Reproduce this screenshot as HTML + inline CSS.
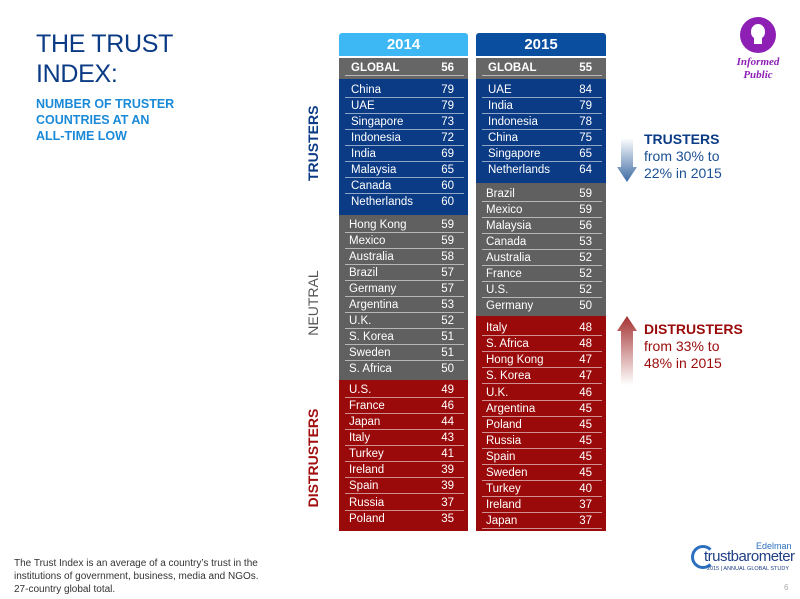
<!DOCTYPE html>
<html><head><meta charset="utf-8"><style>
*{margin:0;padding:0;box-sizing:border-box}
body{width:800px;height:599px;background:#fff;position:relative;overflow:hidden;font-family:"Liberation Sans",sans-serif}
.a{position:absolute}
.r{position:absolute;height:16px;color:#fff;font-size:11.5px;line-height:16px}
.r span{position:absolute;left:12px}
.r b{position:absolute;right:14px;font-weight:normal}
.r i{position:absolute;left:6px;right:4px;bottom:0;height:1px;background:rgba(255,255,255,.55)}
.c14 .r{left:339px;width:129px}
.c15 .r{left:476px;width:130px}
.side{position:absolute;font-weight:bold;font-size:14px;transform:rotate(-90deg);transform-origin:center;white-space:nowrap}
</style></head><body>
<div class="a" style="left:36px;top:29px;font-size:25px;color:#0b3b85;line-height:30px;letter-spacing:-0.3px">THE TRUST<br>INDEX:</div>
<div class="a" style="left:36px;top:96px;font-size:12.5px;font-weight:bold;color:#1a8ad8;line-height:16px">NUMBER OF TRUSTER<br>COUNTRIES AT AN<br>ALL-TIME LOW</div>
<div class="a" style="left:14px;top:557px;font-size:10px;color:#333;line-height:13px">The Trust Index is an average of a country’s trust in the<br>institutions of government, business, media and NGOs.<br>27-country global total.</div>

<div class="side" style="left:278px;top:138px;width:70px;color:#0b3b85;text-align:center">TRUSTERS</div>
<div class="side" style="left:278px;top:295px;width:70px;color:#555;font-weight:normal;text-align:center">NEUTRAL</div>
<div class="side" style="left:263px;top:450px;width:100px;color:#a00e0e;text-align:center">DISTRUSTERS</div>

<div class="a" style="left:339px;top:33px;width:129px;height:23px;background:#3db8f5;border-radius:3px 3px 0 0;color:#fff;font-weight:bold;font-size:15px;text-align:center;line-height:23px">2014</div>
<div class="a" style="left:339px;top:58px;width:129px;height:21px;background:#666"></div>
<div class="a" style="left:339px;top:79px;width:129px;height:136px;background:#0b3b85"></div>
<div class="a" style="left:339px;top:215px;width:129px;height:165px;background:#606060"></div>
<div class="a" style="left:339px;top:380px;width:129px;height:151px;background:#9a0a0a"></div>
<div class="a" style="left:476px;top:33px;width:130px;height:23px;background:#0a4ea0;border-radius:3px 3px 0 0;color:#fff;font-weight:bold;font-size:15px;text-align:center;line-height:23px">2015</div>
<div class="a" style="left:476px;top:58px;width:130px;height:21px;background:#666"></div>
<div class="a" style="left:476px;top:79px;width:130px;height:104px;background:#0b3b85"></div>
<div class="a" style="left:476px;top:183px;width:130px;height:133px;background:#606060"></div>
<div class="a" style="left:476px;top:316px;width:130px;height:215px;background:#9a0a0a"></div>

<div class="c14">
<div class="r" style="top:60px;font-weight:bold"><span>GLOBAL</span><b style="font-weight:bold">56</b><i></i></div>
<div class="r" style="top:82px"><span>China</span><b>79</b><i></i></div>
<div class="r" style="top:98px"><span>UAE</span><b>79</b><i></i></div>
<div class="r" style="top:114px"><span>Singapore</span><b>73</b><i></i></div>
<div class="r" style="top:130px"><span>Indonesia</span><b>72</b><i></i></div>
<div class="r" style="top:146px"><span>India</span><b>69</b><i></i></div>
<div class="r" style="top:162px"><span>Malaysia</span><b>65</b><i></i></div>
<div class="r" style="top:178px"><span>Canada</span><b>60</b><i></i></div>
<div class="r" style="top:194px"><span>Netherlands</span><b>60</b></div>
<div class="r" style="top:217px"><span style="left:10px">Hong Kong</span><b>59</b><i></i></div>
<div class="r" style="top:233px"><span style="left:10px">Mexico</span><b>59</b><i></i></div>
<div class="r" style="top:249px"><span style="left:10px">Australia</span><b>58</b><i></i></div>
<div class="r" style="top:265px"><span style="left:10px">Brazil</span><b>57</b><i></i></div>
<div class="r" style="top:281px"><span style="left:10px">Germany</span><b>57</b><i></i></div>
<div class="r" style="top:297px"><span style="left:10px">Argentina</span><b>53</b><i></i></div>
<div class="r" style="top:313px"><span style="left:10px">U.K.</span><b>52</b><i></i></div>
<div class="r" style="top:329px"><span style="left:10px">S. Korea</span><b>51</b><i></i></div>
<div class="r" style="top:345px"><span style="left:10px">Sweden</span><b>51</b><i></i></div>
<div class="r" style="top:361px"><span style="left:10px">S. Africa</span><b>50</b></div>
<div class="r" style="top:382px"><span style="left:10px">U.S.</span><b>49</b><i></i></div>
<div class="r" style="top:398px"><span style="left:10px">France</span><b>46</b><i></i></div>
<div class="r" style="top:414px"><span style="left:10px">Japan</span><b>44</b><i></i></div>
<div class="r" style="top:430px"><span style="left:10px">Italy</span><b>43</b><i></i></div>
<div class="r" style="top:446px"><span style="left:10px">Turkey</span><b>41</b><i></i></div>
<div class="r" style="top:462px"><span style="left:10px">Ireland</span><b>39</b><i></i></div>
<div class="r" style="top:478px"><span style="left:10px">Spain</span><b>39</b><i></i></div>
<div class="r" style="top:495px"><span style="left:10px">Russia</span><b>37</b><i></i></div>
<div class="r" style="top:511px"><span style="left:10px">Poland</span><b>35</b></div>
</div>

<div class="c15">
<div class="r" style="top:60px;font-weight:bold"><span>GLOBAL</span><b style="font-weight:bold">55</b><i></i></div>
<div class="r" style="top:82px"><span>UAE</span><b>84</b><i></i></div>
<div class="r" style="top:98px"><span>India</span><b>79</b><i></i></div>
<div class="r" style="top:114px"><span>Indonesia</span><b>78</b><i></i></div>
<div class="r" style="top:130px"><span>China</span><b>75</b><i></i></div>
<div class="r" style="top:146px"><span>Singapore</span><b>65</b><i></i></div>
<div class="r" style="top:162px"><span>Netherlands</span><b>64</b></div>
<div class="r" style="top:186px"><span style="left:10px">Brazil</span><b>59</b><i></i></div>
<div class="r" style="top:202px"><span style="left:10px">Mexico</span><b>59</b><i></i></div>
<div class="r" style="top:218px"><span style="left:10px">Malaysia</span><b>56</b><i></i></div>
<div class="r" style="top:234px"><span style="left:10px">Canada</span><b>53</b><i></i></div>
<div class="r" style="top:250px"><span style="left:10px">Australia</span><b>52</b><i></i></div>
<div class="r" style="top:266px"><span style="left:10px">France</span><b>52</b><i></i></div>
<div class="r" style="top:282px"><span style="left:10px">U.S.</span><b>52</b><i></i></div>
<div class="r" style="top:298px"><span style="left:10px">Germany</span><b>50</b></div>
<div class="r" style="top:320px"><span style="left:10px">Italy</span><b>48</b><i></i></div>
<div class="r" style="top:336px"><span style="left:10px">S. Africa</span><b>48</b><i></i></div>
<div class="r" style="top:352px"><span style="left:10px">Hong Kong</span><b>47</b><i></i></div>
<div class="r" style="top:368px"><span style="left:10px">S. Korea</span><b>47</b><i></i></div>
<div class="r" style="top:385px"><span style="left:10px">U.K.</span><b>46</b><i></i></div>
<div class="r" style="top:401px"><span style="left:10px">Argentina</span><b>45</b><i></i></div>
<div class="r" style="top:417px"><span style="left:10px">Poland</span><b>45</b><i></i></div>
<div class="r" style="top:433px"><span style="left:10px">Russia</span><b>45</b><i></i></div>
<div class="r" style="top:449px"><span style="left:10px">Spain</span><b>45</b><i></i></div>
<div class="r" style="top:465px"><span style="left:10px">Sweden</span><b>45</b><i></i></div>
<div class="r" style="top:481px"><span style="left:10px">Turkey</span><b>40</b><i></i></div>
<div class="r" style="top:497px"><span style="left:10px">Ireland</span><b>37</b><i></i></div>
<div class="r" style="top:513px"><span style="left:10px">Japan</span><b>37</b><i></i></div>
</div>

<svg class="a" style="left:612px;top:135px" width="30" height="250">
<defs>
<linearGradient id="gb" x1="0" y1="0" x2="0" y2="1"><stop offset="0" stop-color="#fff"/><stop offset="1" stop-color="#3d6aa3"/></linearGradient>
<linearGradient id="gr" x1="0" y1="1" x2="0" y2="0"><stop offset="0" stop-color="#fff"/><stop offset="1" stop-color="#a53333"/></linearGradient>
</defs>
<polygon points="9,3 21,3 21,32 25,32 15,47 5,32 9,32" fill="url(#gb)"/>
<polygon points="15,181 25,196 21,196 21,250 9,250 9,196 5,196" fill="url(#gr)"/>
</svg>
<div class="a" style="left:644px;top:131px;font-size:14px;line-height:17px;color:#0b3b85"><b>TRUSTERS</b><br><span style="color:#1b4f93">from 30% to<br>22% in 2015</span></div>
<div class="a" style="left:644px;top:321px;font-size:14px;line-height:17px;color:#9a0a0a"><b>DISTRUSTERS</b><br>from 33% to<br>48% in 2015</div>

<div class="a" style="left:740px;top:17px;width:36px;height:36px;border-radius:50%;background:#8e1fb5"></div>
<div class="a" style="left:751px;top:24px;width:14px;height:15px;border-radius:50% 50% 45% 45%;border:2px solid #fff;background:#fff"></div>
<div class="a" style="left:754px;top:38px;width:8px;height:6px;background:#fff"></div>
<div class="a" style="left:720px;top:56px;width:76px;text-align:center;font-family:'Liberation Serif',serif;font-style:italic;font-weight:bold;font-size:11px;color:#8e1fb5;line-height:13px">Informed<br>Public</div>

<div class="a" style="left:691px;top:545px;width:24px;height:24px;border-radius:50%;border:3px solid #2a6fc0;border-right-color:transparent"></div>
<div class="a" style="left:756px;top:541px;font-size:9px;color:#2a6fc0">Edelman</div>
<div class="a" style="left:704px;top:548px;font-size:15px;color:#1f3f86;letter-spacing:-0.5px">trustbarometer</div>
<div class="a" style="left:707px;top:566px;font-size:5.5px;color:#1f3f86">2015 | ANNUAL GLOBAL STUDY</div>
<div class="a" style="left:784px;top:583px;font-size:8px;color:#aaa">6</div>
</body></html>
